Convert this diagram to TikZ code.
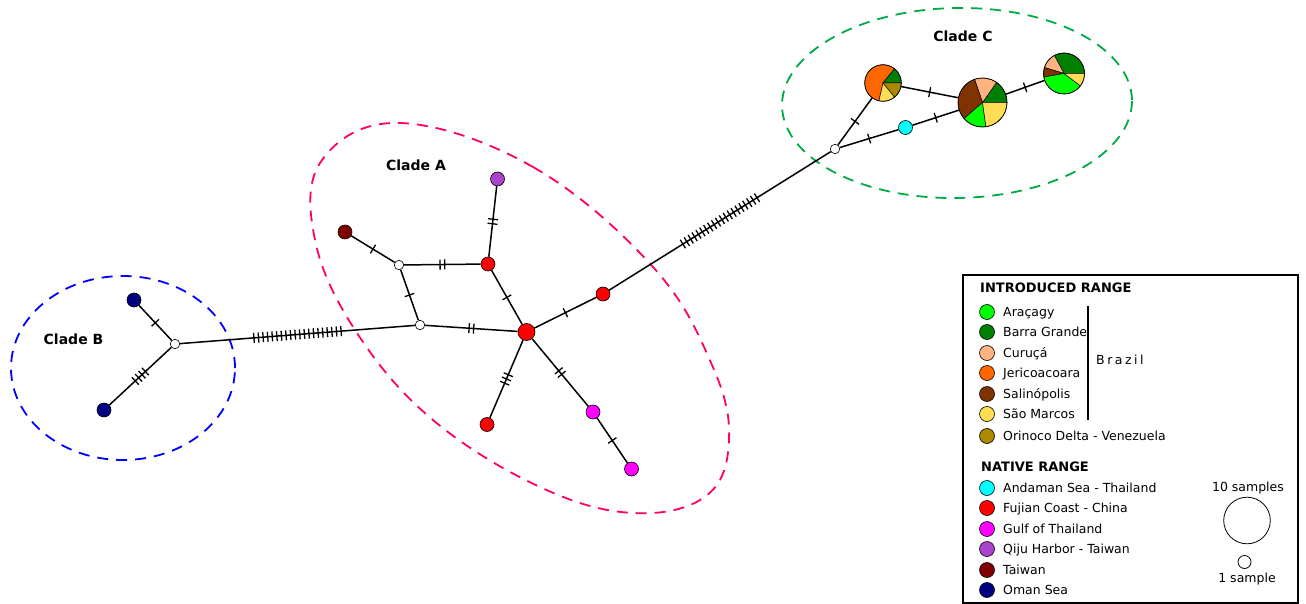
\documentclass[tikz,border=0pt]{standalone}
\usepackage{fontspec}
\setmainfont{DejaVu Sans}
\definecolor{arac}{HTML}{00FF00}
\definecolor{barra}{HTML}{008000}
\definecolor{curuca}{HTML}{FFB380}
\definecolor{jeri}{HTML}{FF6600}
\definecolor{salin}{HTML}{803300}
\definecolor{saom}{HTML}{FFDD55}
\definecolor{orin}{HTML}{AA8800}
\definecolor{andaman}{HTML}{00FFFF}
\definecolor{fujian}{HTML}{FF0000}
\definecolor{gulf}{HTML}{FF00FF}
\definecolor{qiju}{HTML}{AA44CC}
\definecolor{taiwan}{HTML}{800000}
\definecolor{oman}{HTML}{000080}
\definecolor{cladeA}{HTML}{FF0066}
\definecolor{cladeB}{HTML}{0000FF}
\definecolor{cladeC}{HTML}{00AA44}
\newcommand\tks[1]{\foreach \k in {1,...,#1}{\ifnum\k>1\hspace{3.3pt}\fi\rule[-5pt]{1.3pt}{10pt}}}
\newcommand\pieslice[5]{\filldraw[fill=#5,draw=black,line width=0.5pt] (#1.center) -- ++(#3:#2) arc[start angle=#3,end angle=#4,radius=#2] -- cycle;}
\begin{document}
\begin{tikzpicture}[x=1pt,y=1pt,
  hap/.style={circle,draw=black,line width=0.6pt,inner sep=0pt,minimum size=14pt},
  bighap/.style={hap,minimum size=17pt},
  med/.style={circle,draw=black,fill=white,line width=0.6pt,inner sep=0pt,minimum size=9.5pt},
  pie/.style={circle,inner sep=0pt,minimum size=#1},
  edge/.style={line width=1.5pt},
  tk/.style={sloped,inner sep=0pt,anchor=center,pos=0.5},
  clade/.style={dash pattern=on 11pt off 8pt,line width=1.8pt},
  lbl/.style={font=\fontsize{14}{16}\selectfont\bfseries,inner sep=0pt},
  leg/.style={font=\fontsize{12.5}{14}\selectfont,anchor=base west,inner sep=0pt},
  legh/.style={font=\fontsize{13}{15}\selectfont\bfseries,anchor=base west,inner sep=0pt},
  legc/.style={circle,draw=black,line width=0.6pt,inner sep=0pt,minimum size=15pt}
]
\useasboundingbox (0,0) rectangle (1306,-604);

% clade outlines
\draw[clade,draw=cladeB] (123,-368) ellipse[x radius=112,y radius=92];
\draw[clade,draw=cladeA] plot[smooth cycle,tension=0.65] coordinates {
  (400,-123) (533,-167) (653,-267) (712,-365) (729,-440) (706,-496)
  (633,-513) (540,-487) (433,-420) (357,-333) (315,-240) (322,-160)};
\draw[clade,draw=cladeC,shift={(957,-103)},rotate=1] (0,0) ellipse[x radius=175,y radius=95];

\node[lbl] (labA) at (416,-165) {Clade A};
\node[lbl] (labB) at (73.5,-339) {Clade B};
\node[lbl] (labC) at (963,-36) {Clade C};

% haplotypes
\node[hap,fill=oman] (OT) at (134,-300) {};
\node[hap,fill=oman] (OB) at (104,-410) {};
\node[med] (BW) at (175,-344) {};
\node[med] (W1) at (420,-325) {};
\node[med] (W2) at (399,-265) {};
\node[hap,fill=taiwan] (TW) at (345,-232) {};
\node[hap,fill=fujian] (R1) at (488,-264) {};
\node[hap,fill=qiju] (QJ) at (497.5,-179) {};
\node[bighap,fill=fujian] (R0) at (526.5,-332) {};
\node[hap,fill=fujian] (R2) at (603,-294) {};
\node[hap,fill=fujian] (R3) at (487,-424.5) {};
\node[hap,fill=gulf] (M1) at (593,-412) {};
\node[hap,fill=gulf] (M2) at (631.5,-469) {};
\node[med] (W3) at (835,-149) {};
\node[hap,fill=andaman] (CY) at (905.5,-127.5) {};

% pies
\node[pie=36.6pt] (P1) at (883,-83) {};
\pieslice{P1}{18.3pt}{51}{257}{jeri}
\pieslice{P1}{18.3pt}{0}{51}{barra}
\pieslice{P1}{18.3pt}{-51}{0}{orin}
\pieslice{P1}{18.3pt}{-103}{-51}{saom}
\draw[line width=0.6pt] (P1.center) circle[radius=18.3pt];

\node[pie=49pt] (P2) at (982.5,-102.5) {};
\pieslice{P2}{24.5pt}{0}{55}{barra}
\pieslice{P2}{24.5pt}{55}{109}{curuca}
\pieslice{P2}{24.5pt}{109}{221}{salin}
\pieslice{P2}{24.5pt}{221}{278}{arac}
\pieslice{P2}{24.5pt}{278}{360}{saom}
\draw[line width=0.6pt] (P2.center) circle[radius=24.5pt];

\node[pie=41pt] (P3) at (1064,-73.5) {};
\pieslice{P3}{20.5pt}{0}{118}{barra}
\pieslice{P3}{20.5pt}{118}{163}{curuca}
\pieslice{P3}{20.5pt}{163}{190}{salin}
\pieslice{P3}{20.5pt}{190}{323}{arac}
\pieslice{P3}{20.5pt}{323}{360}{saom}
\draw[line width=0.6pt] (P3.center) circle[radius=20.5pt];

% connectors
\draw[edge] (BW) -- node[tk]{\tks{20}} (W1);
\draw[edge] (BW) -- node[tk]{\tks{1}} (OT);
\draw[edge] (BW) -- node[tk]{\tks{4}} (OB);
\draw[edge] (W1) -- node[tk]{\tks{1}} (W2);
\draw[edge] (W2) -- node[tk]{\tks{1}} (TW);
\draw[edge] (W2) -- node[tk]{\tks{2}} (R1);
\draw[edge] (R1) -- node[tk]{\tks{2}} (QJ);
\draw[edge] (R1) -- node[tk]{\tks{1}} (R0);
\draw[edge] (W1) -- node[tk]{\tks{2}} (R0);
\draw[edge] (R0) -- node[tk]{\tks{1}} (R2);
\draw[edge] (R0) -- node[tk]{\tks{3}} (R3);
\draw[edge] (R0) -- node[tk]{\tks{2}} (M1);
\draw[edge] (M1) -- node[tk]{\tks{1}} (M2);
\draw[edge] (R2) -- node[tk]{\tks{20}} (W3);
\draw[edge] (W3) -- node[tk]{\tks{1}} (P1);
\draw[edge] (W3) -- node[tk]{\tks{1}} (CY);
\draw[edge] (CY) -- node[tk]{\tks{1}} (P2);
\draw[edge] (P1) -- node[tk]{\tks{1}} (P2);
\draw[edge] (P2) -- node[tk]{\tks{1}} (P3);

% legend
\draw[line width=1.2pt] (963,-275) rectangle (1298,-603);
\node[legh] (hi) at (980,-292.5) {INTRODUCED RANGE};
\foreach \n/\y/\c/\t in {a/312/arac/Araçagy, b/332/barra/Barra Grande, c/353/curuca/Curuçá, d/373/jeri/Jericoacoara, e/394/salin/Salinópolis, f/414/saom/São Marcos, g/436/orin/Orinoco Delta - Venezuela, h/488/andaman/Andaman Sea - Thailand, i/508/fujian/Fujian Coast - China, j/529/gulf/Gulf of Thailand, k/549/qiju/Qiju Harbor - Taiwan, l/570/taiwan/Taiwan, m/590/oman/Oman Sea}{
  \node[legc,fill=\c] (lc\n) at (987,-\y) {};
  \node[leg] (lt\n) at (1003,-\y-4.5) {\t};
}
\node[legh] (hn) at (981,-471.5) {NATIVE RANGE};
\draw[line width=2pt] (1088,-306) -- (1088,-420);
\node[leg] (brz) at (1096,-364.5) {\addfontfeature{LetterSpace=20}Brazil};
\node[font=\fontsize{12.5}{14}\selectfont,anchor=base,inner sep=0pt] (s10) at (1248,-491.5) {10 samples};
\node[circle,draw=black,line width=0.8pt,inner sep=0pt,minimum size=46.6pt] (c10) at (1247,-520.5) {};
\node[circle,draw=black,line width=0.8pt,inner sep=0pt,minimum size=13pt] (c1) at (1244.5,-562) {};
\node[font=\fontsize{12.5}{14}\selectfont,anchor=base,inner sep=0pt] (s1) at (1247,-582.5) {1 sample};
\end{tikzpicture}
\end{document}
